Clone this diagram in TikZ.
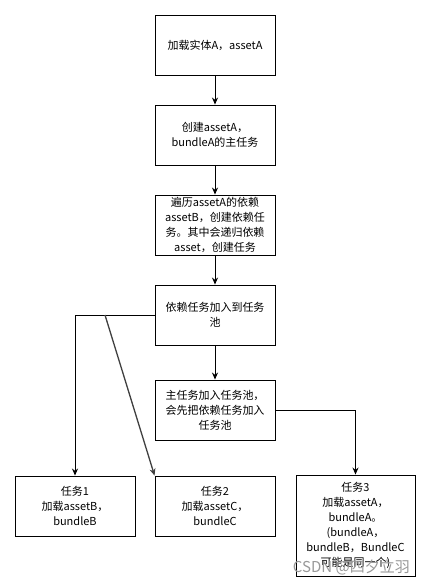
\documentclass[tikz,border=0pt]{standalone}
\usepackage{fontspec}
\setmainfont{Noto Sans CJK SC}
\usetikzlibrary{arrows.meta}
\tikzset{
  box/.style={draw=black, line width=0.9pt, fill=white, minimum width=120pt, minimum height=60pt,
    text width=116pt, align=center, inner sep=1pt, font=\fontsize{11}{15}\selectfont},
  conn/.style={line width=0.9pt, -{Stealth[length=7pt,width=6pt]}},
}
\begin{document}
\begin{tikzpicture}[x=1pt,y=-1pt]
\useasboundingbox (0,0) rectangle (431,587);
\node[box] (b1) at (215,45) {加载实体A，assetA};
\node[box] (b2) at (215,135) {创建assetA，\\bundleA的主任务};
\node[box] (b3) at (215,225) {遍历assetA的依赖\\assetB，创建依赖任\\务。其中会递归依赖\\asset，创建任务};
\node[box] (b4) at (215,315) {依赖任务加入到任务\\池};
\node[box] (b5) at (215,410) {主任务加入任务池，\\会先把依赖任务加入\\任务池};
\node[box] (t1) at (75,506) {任务1\\加载assetB，\\bundleB};
\node[box] (t2) at (215,506) {任务2\\加载assetC，\\bundleC};
\node[box, minimum width=119pt, minimum height=101pt] (t3) at (355.5,525.5) {任务3\\加载assetA，\\bundleA。\\(bundleA，\\bundleB，BundleC\\可能是同一个)};
\coordinate (c1) at (75,315);
\coordinate (c2) at (105,315);
\coordinate (c3) at (355.5,410);
\draw[conn] (b1) -- (b2);
\draw[conn] (b2) -- (b3);
\draw[conn] (b3) -- (b4);
\draw[conn] (b4) -- (b5);
\draw[conn] (b4.west) -- (c1) -- (t1.north);
\draw[conn, line width=1.3pt, draw=black!75, fill=black!75] (c2) -- (t2.north west);
\draw[conn] (b5.east) -- (c3) -- (t3.north);
\node[anchor=east, text=black!40, font=\fontsize{15}{15}\selectfont, inner sep=0pt] (wm) at (410,567) {CSDN @四夕立羽};
\end{tikzpicture}
\end{document}
